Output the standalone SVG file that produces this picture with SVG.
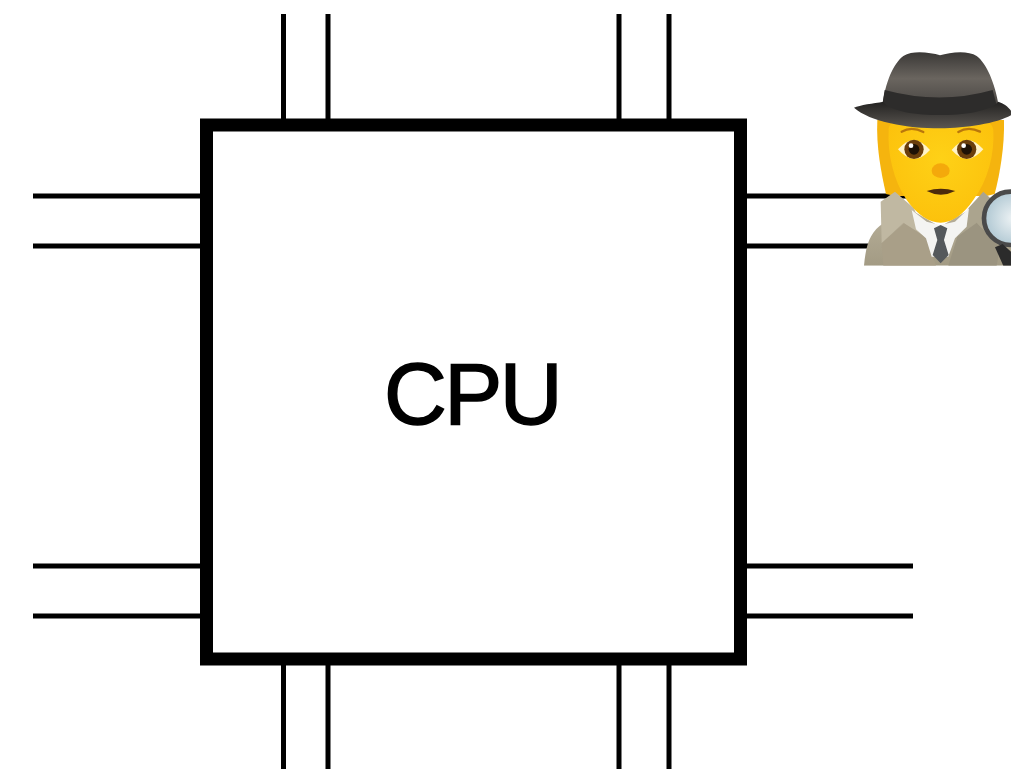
<svg xmlns="http://www.w3.org/2000/svg" width="1011" height="774" viewBox="0 0 1011 774">
<style>
.pin{stroke:#000;stroke-width:5;fill:none}
.lbl{font-family:"Liberation Sans",Arial,sans-serif;font-size:87px;fill:#000;stroke:#000;stroke-width:1.500;letter-spacing:-2.500px;text-anchor:middle}
</style>
<defs>
<linearGradient id="hat" x1="0" y1="0" x2="0" y2="1"><stop offset="0" stop-color="#3a3836"/><stop offset=".5" stop-color="#6a655f"/><stop offset="1" stop-color="#4a4744"/></linearGradient>
<linearGradient id="brim" x1="0" y1="0" x2="0" y2="1"><stop offset="0" stop-color="#232221"/><stop offset="1" stop-color="#5a5651"/></linearGradient>
<radialGradient id="face" cx=".5" cy=".4" r=".7"><stop offset="0" stop-color="#fed117"/><stop offset="1" stop-color="#fcbf0a"/></radialGradient>
<linearGradient id="coat" x1="0" y1="0" x2="0" y2="1"><stop offset="0" stop-color="#b8b09a"/><stop offset="1" stop-color="#a39b84"/></linearGradient>
<radialGradient id="glass" cx=".55" cy=".5" r=".6"><stop offset="0" stop-color="#eef3f5"/><stop offset="1" stop-color="#a9c3cf"/></radialGradient>
<clipPath id="emojiClip"><rect x="0" y="0" width="513" height="677"/></clipPath>
</defs>
<g id="connectors">
<path class="pin" d="M283.500 14V120M328 14V120M619 14V120M669 14V120"/>
<path class="pin" d="M283.500 664V769M328 664V769M619 664V769M669 664V769"/>
<path class="pin" d="M33 196H202M33 246H202M33 566H202M33 616H202"/>
<path class="pin" d="M745 196H913M745 246H913M745 566H913M745 616H913"/>
</g>
<g id="cpu">
<rect x="206.500" y="125" width="534" height="534" fill="#fff" stroke="#000" stroke-width="13"/>
<text class="lbl" x="472" y="424">CPU</text>
</g>
<g id="detective" transform="translate(840 40) scale(.3333)" clip-path="url(#emojiClip)">
<path d="M112 240H492C494 320 480 400 464 462L440 468H165L138 462C124 400 108 320 112 240Z" fill="#f5b40e"/>
<path d="M72 677C78 610 92 575 130 550L205 505L300 560L395 505L470 545C495 560 513 590 520 677Z" fill="url(#coat)"/>
<path d="M122 485L165 455L222 505L255 590L190 548L125 610Z" fill="#c0b8a2"/>
<path d="M468 490L430 455L385 505L352 590L410 548L470 600Z" fill="#aba48e"/>
<path d="M125 610L192 550L255 590L288 677H130Z" fill="#a99f88"/>
<path d="M352 590L410 548L480 620L470 677H325Z" fill="#9b9480"/>
<path d="M215 510L260 545L300 555L345 545L387 505L380 560L345 595L325 650H275L258 595L228 568Z" fill="#f4f4f2"/>
<path d="M282 565L302 555L322 565L312 600L326 645L302 670L278 645L292 600Z" fill="#55595c"/>
<path d="M146 270C146 240 180 230 300 230C420 230 458 240 460 270C464 340 445 420 400 480C370 525 335 548 302 548C268 548 232 525 200 480C160 420 142 340 146 270Z" fill="url(#face)"/>
<path d="M185 275Q215 258 250 276" fill="none" stroke="#b9770c" stroke-width="7" stroke-linecap="round"/>
<path d="M355 276Q385 258 420 275" fill="none" stroke="#b9770c" stroke-width="7" stroke-linecap="round"/>
<path d="M174 328Q222 272 270 330Q222 384 174 328Z" fill="#fff3c8"/>
<path d="M335 330Q382 272 430 328Q382 384 335 330Z" fill="#fff3c8"/>
<circle cx="222" cy="328" r="29" fill="#6a3e0c"/>
<circle cx="380" cy="328" r="29" fill="#6a3e0c"/>
<circle cx="222" cy="328" r="16" fill="#1e1206"/>
<circle cx="380" cy="328" r="16" fill="#1e1206"/>
<circle cx="213" cy="317" r="7" fill="#fff"/>
<circle cx="371" cy="317" r="7" fill="#fff"/>
<ellipse cx="302" cy="392" rx="27" ry="22" fill="#f4a90b"/>
<path d="M260 453Q302 440 346 453Q302 475 260 453Z" fill="#4c2a0c"/>
<path d="M128 195C135 130 160 70 190 48C220 30 270 38 300 46C330 36 385 30 410 48C440 70 465 130 476 195Z" fill="url(#hat)"/>
<path d="M134 150Q300 195 458 150L478 225H122Z" fill="#2d2c2b"/>
<path d="M42 203C60 195 100 190 130 185C150 215 230 225 300 225C370 225 450 215 475 185C490 190 505 200 513 212V226C470 250 380 265 300 265C200 265 90 245 42 203Z" fill="url(#brim)"/>
<circle cx="512" cy="535" r="80" fill="url(#glass)" stroke="#4a4a4a" stroke-width="14"/>
<path d="M465 622L490 677H513V635L488 612Z" fill="#2b2b2b"/>
</g>
</svg>
